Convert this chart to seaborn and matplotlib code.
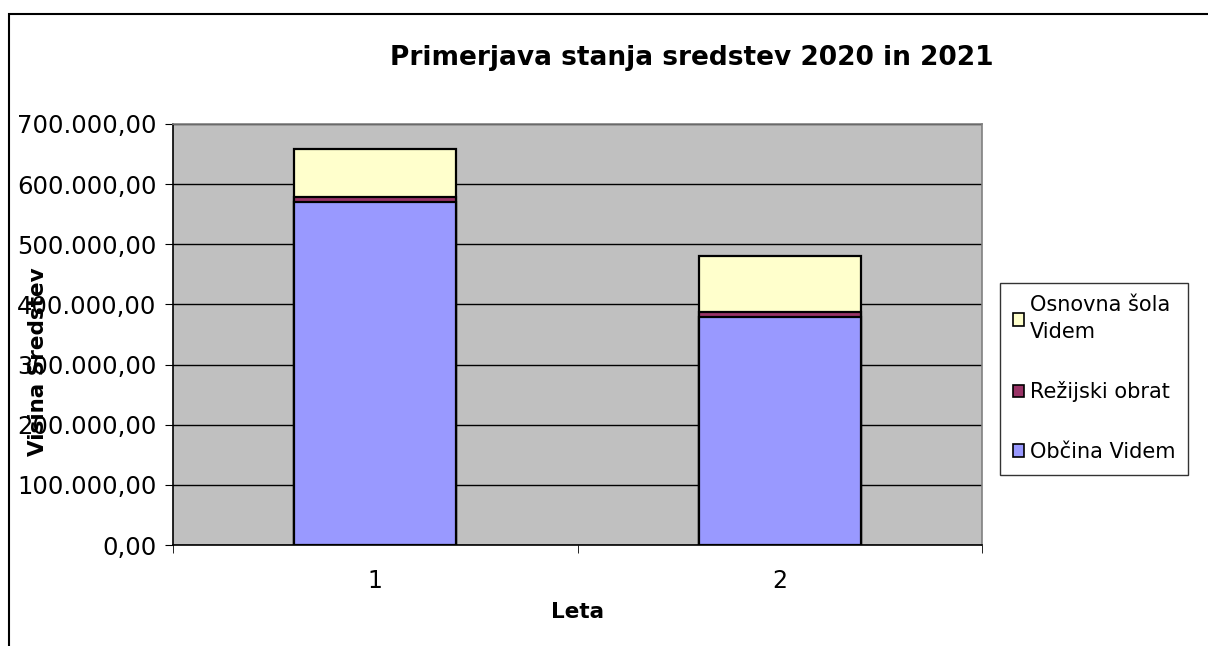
import matplotlib
matplotlib.use("Agg")
import matplotlib.pyplot as plt
import seaborn as sns
import numpy as np
import pandas as pd
from matplotlib.patches import Patch, Rectangle
from matplotlib.ticker import FuncFormatter, FixedLocator

years = ["1", "2"]
obcina_videm = [570300, 379100]
rezijski_obrat = [8000, 8300]
osnovna_sola = [80100, 93100]
series_names = ["Osnovna šola\nVidem", "Režijski obrat", "Občina Videm"]
colors = {"Občina Videm": "#9999FF", "Režijski obrat": "#993366", "Osnovna šola\nVidem": "#FFFFCC"}

sns.set_style("white")
plt.rcParams['font.family'] = ['DejaVu Sans']
plt.rcParams['text.color'] = 'black'
plt.rcParams['xtick.color'] = 'black'
plt.rcParams['ytick.color'] = 'black'

fig = plt.figure(figsize=(12.08, 6.46), dpi=100)
ax = fig.add_axes([173/1208, 1-545/646, (982-173)/1208, (545-124)/646])
ax.set_facecolor("#C0C0C0")

df = pd.DataFrame({"Leta": years,
                   "Občina Videm": obcina_videm,
                   "Režijski obrat": rezijski_obrat,
                   "Osnovna šola": osnovna_sola})
df["c1"] = df["Občina Videm"]
df["c2"] = df["c1"] + df["Režijski obrat"]
df["c3"] = df["c2"] + df["Osnovna šola"]

for col, color in [("c3", colors["Osnovna šola\nVidem"]), ("c2", colors["Režijski obrat"]), ("c1", colors["Občina Videm"])]:
    sns.barplot(data=df, x="Leta", y=col, color=color, width=0.4, edgecolor="black",
                linewidth=1.6, saturation=1, ax=ax, zorder=3)

ax.set_ylim(0, 700000)
ax.set_xlim(-0.5, 1.5)
ax.yaxis.set_major_locator(FixedLocator(np.arange(0, 700001, 100000)))
def fmt(v, p):
    s = f"{int(round(v)):,}".replace(",", ".")
    return s + ",00"
ax.yaxis.set_major_formatter(FuncFormatter(fmt))
ax.grid(axis="y", color="black", linewidth=1.0, zorder=1)
ax.set_axisbelow(True)
ax.tick_params(axis="y", labelsize=17.5, length=6, direction="out", left=True, color="black",
               labelcolor="black", pad=6)
ax.tick_params(axis="x", which="major", labelsize=17, length=0, pad=17, labelcolor="black")
ax.set_xticks([-0.5, 0.5, 1.5], minor=True)
ax.tick_params(axis="x", which="minor", length=6, direction="out", bottom=True, color="black")
for s in ["top", "right"]:
    ax.spines[s].set_color("#808080")
    ax.spines[s].set_linewidth(1.2)
for s in ["left", "bottom"]:
    ax.spines[s].set_color("black")
    ax.spines[s].set_linewidth(1.2)
ax.set_xlabel("")
ax.set_ylabel("")

fig.text(692/1208, 1-58/646, "Primerjava stanja sredstev 2020 in 2021", ha="center", va="center",
         fontsize=19, fontweight="bold", color="black")
fig.text(578/1208, 1-612/646, "Leta", ha="center", va="center", fontsize=15.5, fontweight="bold",
         color="black")
fig.text(38/1208, 1-362/646, "Visina Sredstev", ha="center", va="center", rotation=90,
         fontsize=15.5, fontweight="bold", color="black")

handles = [Patch(facecolor=colors[n], edgecolor="black", linewidth=1.2) for n in series_names]
leg = fig.legend(handles, series_names, loc="upper left", bbox_to_anchor=(1000/1208, 1-283/646),
                 frameon=True, fancybox=False, edgecolor="black", fontsize=15,
                 handlelength=0.55, handleheight=0.55, handletextpad=0.3, labelspacing=1.9,
                 borderpad=0.6, borderaxespad=0)
leg.get_frame().set_linewidth(1.0)
for t in leg.get_texts():
    t.set_color("black")
    t.set_linespacing(1.4)

fig.patches.append(Rectangle((9/1208, -0.05), 1.2, 1-14/646+0.05, transform=fig.transFigure,
                             fill=False, edgecolor="black", linewidth=1.5))

fig.savefig("out.png", dpi=100)
